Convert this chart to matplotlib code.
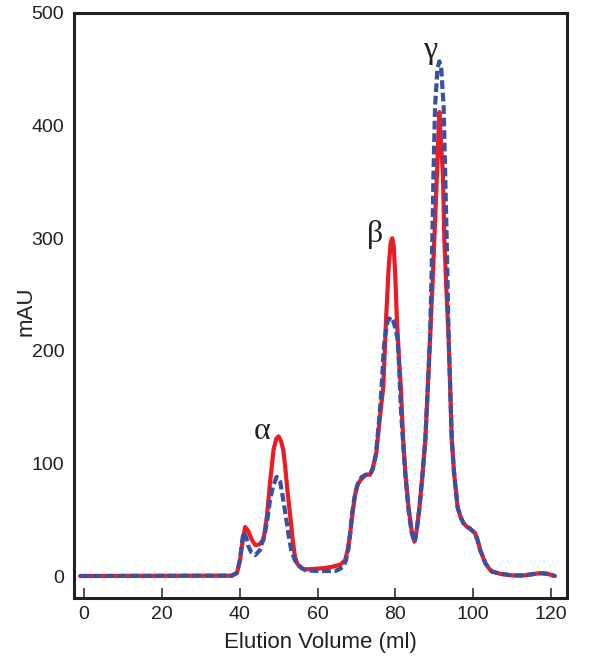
import matplotlib
matplotlib.use('Agg')
import matplotlib.pyplot as plt

# values (ml, mAU)
red_x = [-1, 38, 39.3, 40.1, 40.8, 41.4, 42.2, 43.0, 44.0, 45.0, 46.1, 47.0, 47.8, 48.7, 49.4,
         50.0, 50.6, 51.2, 51.7, 52.3, 53.0, 53.6, 54.2, 54.8, 55.5, 56.4, 58, 60, 61.6, 63.5,
         65.8, 67.1, 67.8, 68.4, 69.0, 69.7, 70.3, 71.0, 71.8, 72.7, 73.5, 74.2, 75.1, 76.0,
         76.9, 77.6, 78.3, 78.8, 79.2, 79.6, 80.0, 80.4, 80.9, 81.4, 82.0, 82.6, 83.4, 84.2,
         84.9, 85.5, 86.2, 87.0, 87.7, 88.3, 88.9, 89.5, 90.0, 90.7, 91.3, 91.8, 92.2, 92.6,
         93.1, 93.7]
red_y = [0, 0.3, 2.5, 14, 32, 43.5, 40, 33, 27.5, 28, 32, 53, 83, 112, 122,
         124, 120, 112, 97, 75, 53, 33, 17, 11, 8, 6, 6, 6.5, 7, 8,
         10, 14, 24, 38, 56, 73, 81, 85, 88, 90, 90, 96, 109, 140,
         168, 227, 275, 296, 300, 292, 265, 227, 195, 168, 122, 90, 61, 40,
         30.5, 41, 61, 91, 121, 165, 210, 255, 298, 358, 412, 380, 358, 298,
         255, 210]

blue_x = [-1, 38, 39.3, 40.1, 40.6, 41.0, 41.6, 42.3, 43.0, 44.0, 45.2, 46.5, 47.2, 47.8,
          48.6, 49.5, 50.4, 51.2, 51.9, 52.5, 53.3, 54.2, 55.0, 56.0, 57, 60, 64.7, 66.6,
          67.3, 67.9, 68.4, 68.8, 69.4, 70.1, 70.7, 71.4, 72.4, 73.5, 74.2, 75.0, 76.0, 76.5,
          77.0, 77.3, 78.0, 78.8, 79.5, 80.0, 80.5, 80.8, 81.1, 81.4, 82.1, 82.6, 83.4, 84.2,
          85.0, 85.5, 86.2, 87.0, 87.7, 88.3, 88.9, 89.5, 89.8, 90.2, 90.8, 91.3, 91.8, 92.4,
          92.8, 93.2, 93.7]
blue_y = [0, 0.3, 3, 15, 30, 39, 35, 26, 21, 18.6, 23, 38, 52, 67.5,
          80, 88, 84, 67.5, 52, 38, 22, 14, 10, 7, 5, 4.5, 4.5, 8,
          14, 23, 38, 53, 68, 79, 85, 88, 90, 90, 95, 108, 145, 170,
          200, 212, 226, 230, 226, 220, 212, 198, 175, 150, 112, 88, 58, 38,
          30, 41, 61, 91, 121, 165, 210, 298, 358, 417, 450, 457, 450, 417,
          358, 298, 210]

# both traces share the tail after the gamma peak
tail_x = [94.5, 95.1, 96.0, 96.8, 97.5, 98.3, 99.2, 100.5, 101.2, 101.8, 102.5, 103.1,
          104.0, 104.8, 106.9, 110, 113, 116, 117.5, 119, 121]
tail_y = [121, 91, 61, 52, 47, 44, 42, 38, 31, 23, 17, 11.5,
          7, 4, 2, 0.5, 0.5, 2, 2.5, 2, 0]

peak_labels = ['\u03b1', '\u03b2', '\u03b3']
peak_pos = [(45.8, 128), (74.8, 303), (89.0, 467)]

xticks = [0, 20, 40, 60, 80, 100, 120]
yticks = [0, 100, 200, 300, 400, 500]

dark = '#231f20'

fig = plt.figure(figsize=(6, 6.65), dpi=100)
ax = fig.add_axes([0.1233, 0.1008, 0.8217, 0.8797])

ax.plot(red_x + tail_x, red_y + tail_y, color='#ed1c24', lw=3.0, solid_joinstyle='round',
        solid_capstyle='round')
ax.plot(blue_x + tail_x, blue_y + tail_y, color='#3a51a3', lw=3.0, linestyle=(0, (2.1, 0.9)))

for lab, (px, py) in zip(peak_labels, peak_pos):
    ax.text(px, py, lab, fontsize=23, family='Liberation Serif', color=dark,
            ha='center', va='center')

ax.set_xlim(-2.57, 124.1)
ax.set_ylim(-19.5, 500)
ax.set_xticks(xticks)
ax.set_yticks(yticks)

for s in ax.spines.values():
    s.set_linewidth(2.2)
    s.set_color(dark)

ax.tick_params(axis='x', direction='in', length=7, width=1.1, color=dark, pad=6,
               labelsize=14, labelcolor=dark)
ax.tick_params(axis='y', length=0, pad=7, labelsize=14, labelcolor=dark)
for t in ax.get_xticklabels() + ax.get_yticklabels():
    t.set_family('Liberation Sans')

ax.set_xlabel('Elution Volume (ml)', fontsize=16, family='Liberation Sans', color=dark, labelpad=6)
ax.set_ylabel('mAU', fontsize=16, family='Liberation Sans', color=dark)
ax.yaxis.set_label_coords(-0.075, 0.49)

fig.savefig('out.png', dpi=100)
